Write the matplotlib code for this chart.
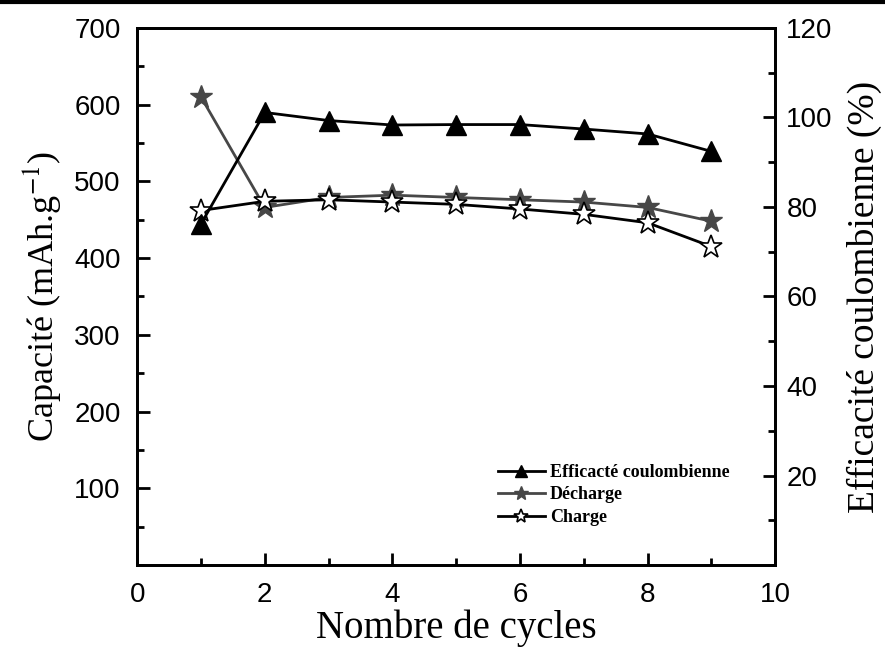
import matplotlib.pyplot as plt
from matplotlib.lines import Line2D
from matplotlib.ticker import MultipleLocator

plt.rcParams['mathtext.fontset'] = 'stix'

cycles = [1, 2, 3, 4, 5, 6, 7, 8, 9]
efficacite = [76.2, 101.1, 99.3, 98.3, 98.4, 98.4, 97.4, 96.3, 92.4]
decharge = [610, 466, 479, 482, 479, 476, 473, 466, 448]
charge = [462, 474, 476, 473, 470, 464, 457, 446, 415]

serif = ['Liberation Serif', 'DejaVu Serif']
sans = ['Liberation Sans', 'DejaVu Sans']

fig = plt.figure(figsize=(8.85, 6.48), dpi=100)
ax = fig.add_axes([0.155, 0.128, 0.721, 0.829])
ax2 = ax.twinx()

l2, = ax.plot(cycles, decharge, color='#474747', lw=2, marker='*', ms=17,
              mfc='#474747', mec='#474747', label='Décharge', zorder=3)
l3, = ax.plot(cycles, charge, color='black', lw=2, marker='*', ms=17,
              mfc='white', mec='black', mew=1.2, label='Charge', zorder=4)
l1, = ax2.plot(cycles, efficacite, color='black', lw=2, marker='^', ms=15,
               mfc='black', mec='black', label='Efficacté coulombienne')

ax.set_xlim(0, 10)
ax.set_ylim(0, 700)
ax2.set_ylim(0, 120)
ax.set_xticks([0, 2, 4, 6, 8, 10])
ax.set_yticks([100, 200, 300, 400, 500, 600, 700])
ax2.set_yticks([20, 40, 60, 80, 100, 120])
ax.xaxis.set_minor_locator(MultipleLocator(1))
ax.yaxis.set_minor_locator(MultipleLocator(50))
ax2.yaxis.set_minor_locator(MultipleLocator(10))

for a in (ax, ax2):
    a.tick_params(which='major', direction='in', length=9, width=2, labelsize=20)
    a.tick_params(which='minor', direction='in', length=5, width=2)
    for s in a.spines.values():
        s.set_linewidth(2)
    for t in a.get_xticklabels() + a.get_yticklabels():
        t.set_family(sans)
ax.tick_params(axis='x', pad=12)
ax.tick_params(axis='y', pad=12)
ax2.tick_params(axis='y', pad=8)
ax.tick_params(top=False, right=False, which='both')
ax2.tick_params(top=False, which='both')

ax.set_xlabel('Nombre de cycles', family=serif, fontsize=28, labelpad=1)
ax.set_ylabel('Capacité (mAh.g$^{-1}$)', family=serif, fontsize=26, labelpad=8)
ax2.set_ylabel('Efficacité coulombienne (%)', family=serif, fontsize=27, labelpad=10)

leg = ax.legend([l1, l2, l3], [l1.get_label(), l2.get_label(), l3.get_label()],
                loc='upper left', bbox_to_anchor=(0.565, 0.188), frameon=False,
                borderpad=0, borderaxespad=0,
                prop={'family': serif, 'weight': 'bold', 'size': 13},
                handlelength=2.6, markerscale=0.6, labelspacing=0.3, handletextpad=0.3)

fig.add_artist(Line2D([0, 1], [0.997, 0.997], transform=fig.transFigure, color='black', lw=3))

fig.savefig('out.png', dpi=100)
